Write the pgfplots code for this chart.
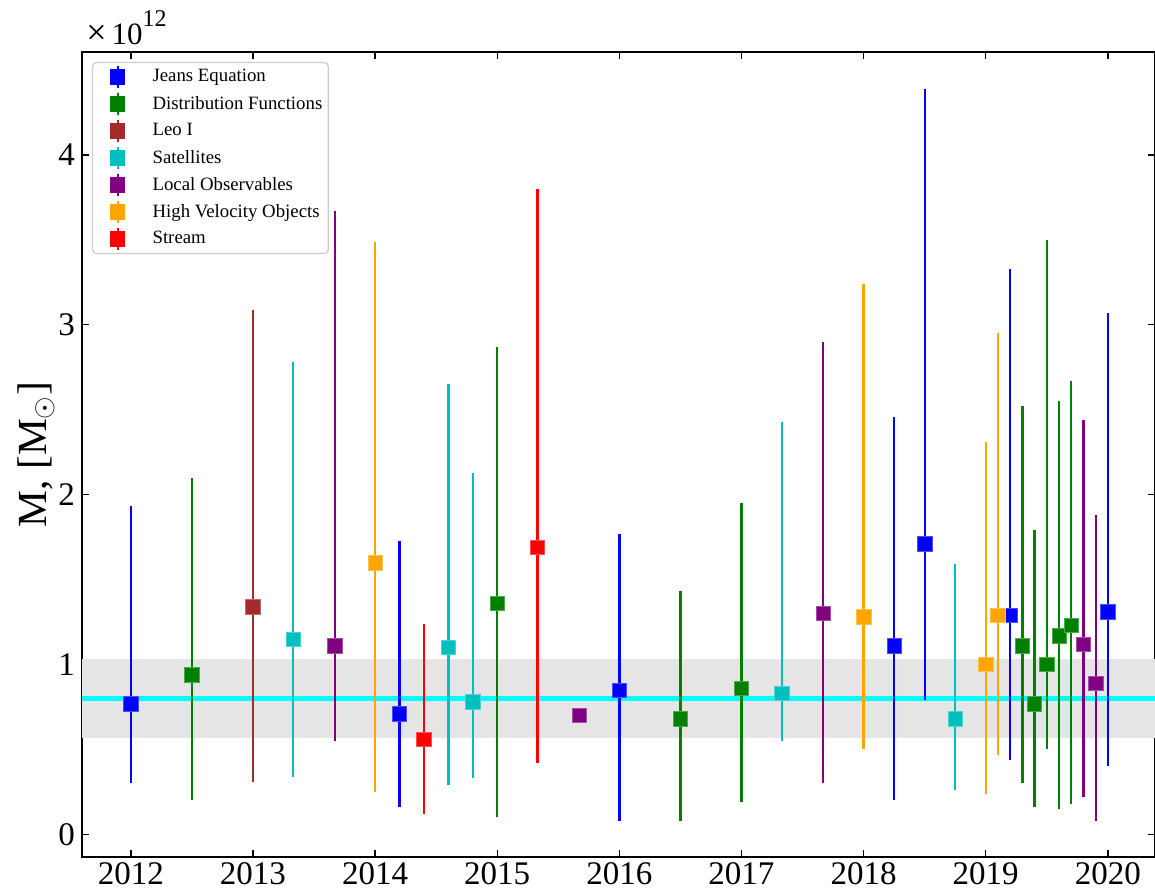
\documentclass[border=0pt]{standalone}
\usepackage{pgfplots}
\pgfplotsset{compat=1.18}
\usepackage{fontspec}
\setmainfont{Liberation Serif}

\definecolor{mpgreen}{rgb}{0,0.5,0}
\definecolor{mpbrown}{rgb}{0.647,0.165,0.165}
\definecolor{mpcyan}{rgb}{0,0.75,0.75}
\definecolor{mppurple}{rgb}{0.5,0,0.5}
\definecolor{mporange}{rgb}{1,0.647,0}
\definecolor{mpred}{rgb}{1,0,0}
\definecolor{mpblue}{rgb}{0,0,1}
\definecolor{aqua}{rgb}{0,1,1}
\definecolor{band}{rgb}{0.898,0.898,0.898}

\pgfplotstableread{
x y ep em
2012.0 0.77 1.165 0.47
2014.2 0.71 1.02 0.55
2016.0 0.85 0.92 0.77
2018.25 1.11 1.35 0.91
2018.5 1.71 2.68 0.92
2019.2 1.29 2.04 0.85
2020.0 1.31 1.76 0.91
}\jeans

\pgfplotstableread{
x y ep em
2012.5 0.94 1.16 0.74
2015.0 1.36 1.51 1.26
2016.5 0.68 0.75 0.60
2017.0 0.86 1.09 0.67
2019.3 1.11 1.41 0.81
2019.4 0.77 1.02 0.61
2019.5 1.00 2.50 0.50
2019.6 1.17 1.38 1.02
2019.7 1.23 1.44 1.05
}\distf

\pgfplotstableread{
x y ep em
2013.0 1.34 1.75 1.03
}\leo

\pgfplotstableread{
x y ep em
2013.33 1.15 1.63 0.81
2014.6 1.10 1.55 0.81
2014.8 0.78 1.35 0.45
2017.33 0.83 1.60 0.28
2018.75 0.68 0.91 0.42
}\sats

\pgfplotstableread{
x y ep em
2013.67 1.11 2.56 0.56
2015.67 0.70 0 0
2017.67 1.30 1.60 1.00
2019.8 1.12 1.32 0.90
2019.9 0.89 0.99 0.81
}\localobs

\pgfplotstableread{
x y ep em
2014.0 1.60 1.89 1.35
2018.0 1.28 1.96 0.78
2019.0 1.00 1.31 0.76
2019.1 1.29 1.66 0.82
}\hvo

\pgfplotstableread{
x y ep em
2014.4 0.56 0.68 0.44
2015.33 1.69 2.11 1.27
}\stream

\pgfplotsset{
  errpt/.style={
    only marks, mark=square*, mark size=3.6pt, color=#1,
    mark options={solid, fill=#1, draw=#1!70!white, line width=0.3pt},
    error bars/.cd, y dir=both, y explicit, error mark=none,
    error bar style={line width=1.15pt, color=#1}
  }
}

\begin{document}
\begin{tikzpicture}
\useasboundingbox (-41pt,-17.5pt) rectangle (536.5pt,428.5pt);
\begin{axis}[
  at={(0pt,0pt)}, anchor=south west,
  scale only axis,
  clip mode=individual,
  width=536.5pt, height=402.5pt,
  xmin=2011.6, xmax=2020.386,
  ymin=-0.133, ymax=4.606,
  xtick={2012,2013,2014,2015,2016,2017,2018,2019,2020},
  ytick={0,1,2,3,4},
  xticklabel style={/pgf/number format/1000 sep=, yshift=1pt},
  /pgf/number format/assume math mode=true,
  tick label style={font=\fontsize{16.5}{18}\selectfont},
  tick align=inside,
  major tick length=3.5pt,
  every tick/.style={black, line width=0.7pt},
  axis line style={line width=0.7pt},
  ylabel={M, [M$_\odot$]},
  ylabel style={at={(axis description cs:-0.0429,0.5)}, anchor=center, font=\fontsize{20.7}{24}\selectfont},
  legend cell align=left,
  legend style={
    at={(0.0093,0.9876)}, anchor=north west,
    draw=black!20, rounded corners=2pt, line width=0.6pt,
    fill=white,
    font=\fontsize{9.4}{11}\selectfont,
    inner xsep=2pt, inner ysep=0.5pt,
    nodes={inner sep=1pt, anchor=west, draw=none, fill=none, text=black},
    /tikz/every even column/.style={column sep=0pt},
    row sep=0pt
  },
  legend image code/.code={
    \path[draw=none, fill=none] (0pt,-6.75pt) rectangle (27pt,6.75pt);
    \draw[sharp corners, line width=1pt] (10.5pt,-5.6pt) -- (10.5pt,5.6pt);
    \fill[sharp corners] (7pt,-3.5pt) rectangle (14pt,3.5pt);
  },
]
\addplot[fill=band, draw=none, forget plot] coordinates {(2011,0.567) (2021,0.567) (2021,1.034) (2011,1.034)};
\addplot[aqua, line width=2.1pt, forget plot] coordinates {(2011,0.80) (2021,0.80)};

\addplot[errpt=mpblue] table[x=x, y=y, y error plus=ep, y error minus=em] {\jeans};
\addlegendentry{Jeans Equation}
\addplot[errpt=mpgreen] table[x=x, y=y, y error plus=ep, y error minus=em] {\distf};
\addlegendentry{Distribution Functions}
\addplot[errpt=mpbrown] table[x=x, y=y, y error plus=ep, y error minus=em] {\leo};
\addlegendentry{Leo I}
\addplot[errpt=mpcyan] table[x=x, y=y, y error plus=ep, y error minus=em] {\sats};
\addlegendentry{Satellites}
\addplot[errpt=mppurple] table[x=x, y=y, y error plus=ep, y error minus=em] {\localobs};
\addlegendentry{Local Observables}
\addplot[errpt=mporange] table[x=x, y=y, y error plus=ep, y error minus=em] {\hvo};
\addlegendentry{High Velocity Objects}
\addplot[errpt=mpred] table[x=x, y=y, y error plus=ep, y error minus=em] {\stream};
\addlegendentry{Stream}

\node[anchor=base west, inner sep=0pt] at (axis description cs:0.0037,1.0087)
  {{\fontsize{18}{20}\selectfont ×}\hspace{2.5pt}{\fontsize{15.5}{18}\selectfont 10}\raisebox{9.3pt}{\fontsize{12}{14}\selectfont 12}};
\end{axis}
\end{tikzpicture}
\end{document}
